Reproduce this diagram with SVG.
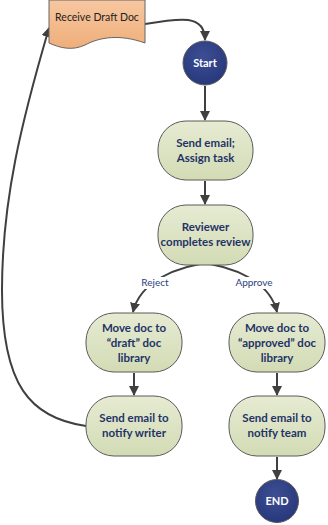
<svg xmlns="http://www.w3.org/2000/svg" width="328" height="525" viewBox="0 0 328 525">
<defs>
<linearGradient id="gBox" x1="0" y1="0" x2="0" y2="1"><stop offset="0" stop-color="#E6EBD2"/><stop offset="1" stop-color="#D3DBB5"/></linearGradient>
<linearGradient id="gDoc" x1="0" y1="0" x2="0" y2="1"><stop offset="0" stop-color="#F7C7A0"/><stop offset="1" stop-color="#EFAE7A"/></linearGradient>
<radialGradient id="gCirc" cx="0.45" cy="0.35" r="0.7"><stop offset="0" stop-color="#3D4E93"/><stop offset="1" stop-color="#26367A"/></radialGradient>
<marker id="arr" viewBox="0 0 10 10" refX="9" refY="5" markerWidth="10" markerHeight="10" markerUnits="userSpaceOnUse" orient="auto"><path d="M0,0 L10,5 L0,10 Z" fill="#404040"/></marker>
</defs>
<style>
.box{fill:url(#gBox);stroke:#5a5a5a;stroke-width:1}
.circ{fill:url(#gCirc);stroke:#5a5a5a;stroke-width:1}
.t{font-family:Lato,"Liberation Sans",sans-serif;font-weight:bold;font-size:11.5px;fill:#1F3366;text-anchor:middle}
.ct{font-family:Lato,"Liberation Sans",sans-serif;font-weight:bold;font-size:11px;fill:#FFFFFF;text-anchor:middle}
.lbl{font-family:Lato,"Liberation Sans",sans-serif;font-size:10px;fill:#2A3F80;text-anchor:middle}
.c{fill:none;stroke:#404040;stroke-width:2;marker-end:url(#arr)}
</style>
<g id="connectors">
<path class="c" d="M145,24 C180,18 205,14 205,40"/>
<path class="c" d="M205,86 L205,120"/>
<path class="c" d="M205,181 L205,204"/>
<path class="c" d="M214,262 C175,266 140,282 133,312"/>
<path class="c" d="M196,262 C235,266 270,282 277,312"/>
<path class="c" d="M134,373 L134,395"/>
<path class="c" d="M277,373 L277,395"/>
<path class="c" d="M277,457 L277,479"/>
<path class="c" d="M86,426 C30,418 2,385 2,290 C2,200 22,120 49,28"/>
<rect x="140" y="277" width="31" height="12" fill="#fff"/>
<rect x="234" y="277" width="40" height="12" fill="#fff"/>
<text class="lbl" x="155" y="286">Reject</text>
<text class="lbl" x="254" y="286">Approve</text>
</g>
<g id="receive">
<path d="M49,0 L145,0 L145,43 C120,34 100,37 85,45 C72,51 60,48 49,43 Z" fill="url(#gDoc)" stroke="#666" stroke-width="1"/>
<text x="97" y="21" font-family="Lato,'Liberation Sans',sans-serif" font-size="10.5px" fill="#222" text-anchor="middle">Receive Draft Doc</text>
</g>
<g id="start">
<circle class="circ" cx="205" cy="63" r="22"/>
<text class="ct" x="205" y="67">Start</text>
</g>
<g id="send1">
<rect class="box" x="158" y="121" width="95" height="59" rx="28" ry="28"/>
<text class="t" x="205.5" y="147">Send email;</text>
<text class="t" x="205.5" y="162">Assign task</text>
</g>
<g id="review">
<rect class="box" x="158" y="205" width="95" height="60" rx="28" ry="28"/>
<text class="t" x="205.5" y="231">Reviewer</text>
<text class="t" x="205.5" y="246">completes review</text>
</g>
<g id="draft">
<rect class="box" x="86" y="313" width="96" height="59" rx="28" ry="28"/>
<text class="t" x="134" y="332">Move doc to</text>
<text class="t" x="134" y="347">“draft” doc</text>
<text class="t" x="134" y="362">library</text>
</g>
<g id="approved">
<rect class="box" x="229" y="313" width="96" height="59" rx="28" ry="28"/>
<text class="t" x="277" y="332">Move doc to</text>
<text class="t" x="277" y="347">“approved” doc</text>
<text class="t" x="277" y="362">library</text>
</g>
<g id="writer">
<rect class="box" x="86" y="396" width="96" height="60" rx="28" ry="28"/>
<text class="t" x="134" y="422">Send email to</text>
<text class="t" x="134" y="437">notify writer</text>
</g>
<g id="team">
<rect class="box" x="229" y="396" width="96" height="60" rx="28" ry="28"/>
<text class="t" x="277" y="422">Send email to</text>
<text class="t" x="277" y="437">notify team</text>
</g>
<g id="end">
<circle class="circ" cx="277" cy="501" r="21.5"/>
<text class="ct" x="277" y="505">END</text>
</g>
</svg>
